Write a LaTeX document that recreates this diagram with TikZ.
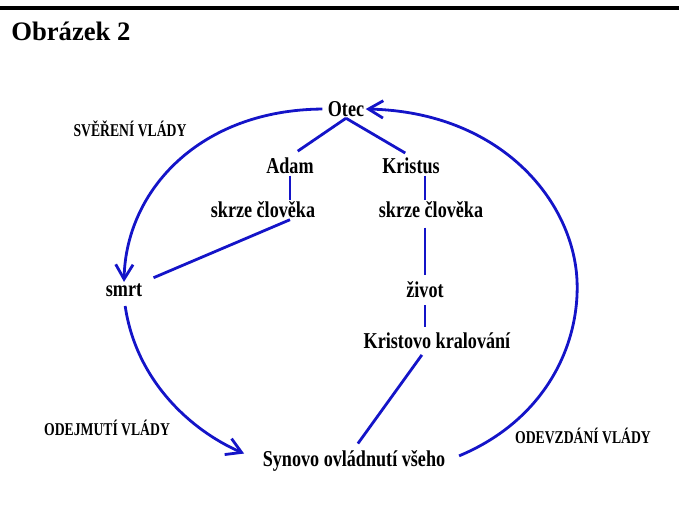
\documentclass[tikz,border=0pt]{standalone}
\usepackage{fontspec}
\setmainfont{Liberation Serif}
\newfontfamily\lblfont{Liberation Serif}[FakeStretch=0.8]
\newfontfamily\capfont{Liberation Serif}[FakeStretch=0.76]
\usetikzlibrary{arrows.meta}
\definecolor{arcblue}{RGB}{20,20,200}
\tikzset{
  lbl/.style={font=\lblfont\bfseries\fontsize{17}{19}\selectfont, inner sep=1pt},
  caplbl/.style={font=\capfont\bfseries\fontsize{13.5}{15}\selectfont, inner sep=1pt},
  link/.style={arcblue, line width=2.1pt},
  flow/.style={link, -{Straight Barb[length=11pt,width=13pt,line width=2.1pt]}}
}
\begin{document}
\begin{tikzpicture}[x=0.75pt,y=-0.75pt]
    \useasboundingbox (0,0) rectangle (679,531);
    \draw[line width=2.5pt] (0,8) -- (679,8);
    \node[anchor=west, font=\bfseries\fontsize{20}{22}\selectfont, inner sep=0pt] (title) at (11,31) {Obrázek 2};
    \node[lbl] (otec) at (346,109) {Otec};
    \node[lbl] (adam) at (290,166) {Adam};
    \node[lbl] (kristus) at (411,166) {Kristus};
    \node[lbl] (skrzeL) at (263,210) {skrze člověka};
    \node[lbl] (skrzeR) at (431,210) {skrze člověka};
    \node[lbl] (smrt) at (124,290) {smrt};
    \node[lbl] (zivot) at (425,290) {život};
    \node[lbl] (kral) at (437,341) {Kristovo kralování};
    \node[lbl] (syn) at (354,461) {Synovo ovládnutí všeho};
    \node[caplbl] (sver) at (130,129) {SVĚŘENÍ VLÁDY};
    \node[caplbl] (odej) at (107,428) {ODEJMUTÍ VLÁDY};
    \node[caplbl] (odev) at (583,436) {ODEVZDÁNÍ VLÁDY};
    % tree
    \draw[link, shorten >=7pt] (otec.south) -- (adam.north);
    \draw[link, shorten >=5pt] (otec.south) -- (kristus.north);
    \draw[link] (adam.south) -- (adam.south |- skrzeL.north);
    \draw[link, shorten >=8pt] (adam |- skrzeL.south) -- (smrt.north east);
    \draw[link] (kristus.south -| zivot) -- (skrzeR.north -| zivot);
    \draw[link, shorten <=6pt, shorten >=4pt] (skrzeR.south -| zivot) -- (zivot.north);
    \draw[link, shorten <=4pt, shorten >=3pt] (zivot.south) -- (kral.north -| zivot);
    \draw[link, shorten <=4pt, shorten >=5pt] (kral.south -| zivot) -- (syn.north);
    % cycle
    \draw[flow, shorten <=3pt] (otec.west) .. controls (200,110) and (126,190) .. (smrt.north);
    \draw[flow, shorten <=6pt, shorten >=14pt] (smrt.south) .. controls (136,380) and (190,430) .. (syn.west);
    \draw[flow, shorten <=10pt] (syn.east) .. controls (545,420) and (580,345) .. (577,280)
        .. controls (573,200) and (500,112) .. (otec.east);
\end{tikzpicture}
\end{document}
